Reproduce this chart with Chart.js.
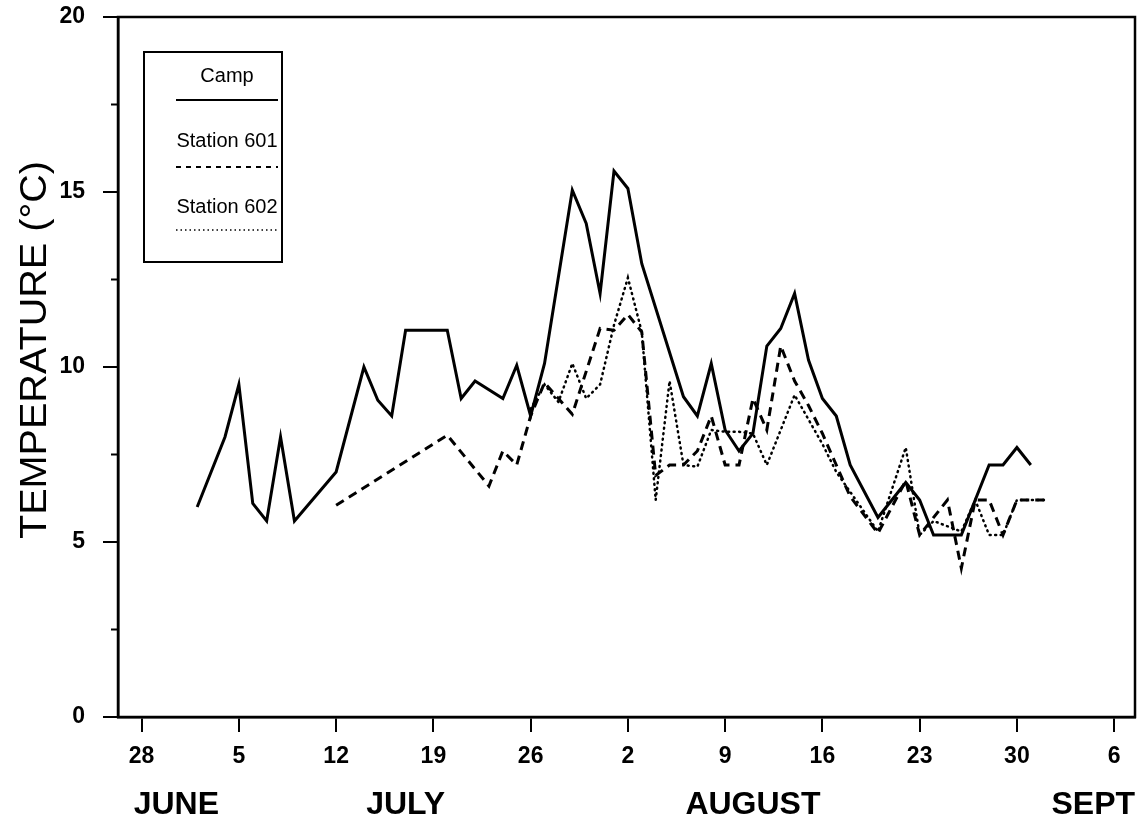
<!DOCTYPE html>
<html>
<head>
<meta charset="utf-8">
<title>Temperature</title>
<script src="https://cdn.jsdelivr.net/npm/chart.js@4.4.1/dist/chart.umd.min.js"></script>
<style>
  html, body { margin: 0; padding: 0; background: #fff; }
  canvas { display: block; }
</style>
</head>
<body>
<canvas id="tempChart" width="1143" height="818"></canvas>
<script>
// days counted from 28 June (day 0)
const tickDays = [0, 7, 14, 21, 28, 35, 42, 49, 56, 63, 70];
const tickLabels = ["28", "5", "12", "19", "26", "2", "9", "16", "23", "30", "6"];
const monthDays = [2.5, 19, 44, 68.5];
const monthLabels = ["JUNE", "JULY", "AUGUST", "SEPT"];

const campDays = [4, 6, 7, 8, 9, 10, 11, 14, 16, 17, 18, 19, 22, 23, 24, 26, 27, 28, 29, 31, 32, 33, 34, 35, 36, 39, 40, 41, 42, 43, 44, 45, 46, 47, 48, 49, 50, 51, 53, 55, 56, 57, 59, 61, 62, 63, 64];
const campTemps = [6.0, 8.0, 9.5, 6.1, 5.6, 8.0, 5.6, 7.0, 10.0, 9.05, 8.6, 11.05, 11.05, 9.1, 9.6, 9.1, 10.05, 8.6, 10.1, 15.05, 14.1, 12.1, 15.6, 15.1, 12.95, 9.15, 8.6, 10.1, 8.2, 7.6, 8.1, 10.6, 11.1, 12.1, 10.2, 9.1, 8.6, 7.2, 5.7, 6.7, 6.2, 5.2, 5.2, 7.2, 7.2, 7.7, 7.2];

const st601Days = [14, 22, 25, 26, 27, 28, 29, 30, 31, 33, 34, 35, 36, 37, 38, 39, 40, 41, 42, 43, 44, 45, 46, 47, 48, 49, 50, 51, 53, 55, 56, 58, 59, 60, 61, 62, 63, 65];
const st601Temps = [6.05, 8.05, 6.6, 7.6, 7.2, 8.6, 9.55, 9.1, 8.65, 11.1, 11.05, 11.5, 11.0, 6.9, 7.2, 7.2, 7.6, 8.6, 7.2, 7.2, 9.1, 8.2, 10.6, 9.6, 8.9, 8.1, 7.2, 6.3, 5.25, 6.75, 5.2, 6.2, 4.25, 6.2, 6.2, 5.2, 6.2, 6.2];

const st602Days = [28, 29, 30, 31, 32, 33, 34, 35, 36, 37, 38, 39, 40, 41, 42, 43, 44, 45, 47, 48, 49, 50, 53, 55, 56, 57, 59, 60, 61, 62, 63, 65];
const st602Temps = [8.8, 9.5, 9.0, 10.1, 9.1, 9.5, 11.2, 12.55, 11.0, 6.2, 9.6, 7.2, 7.15, 8.2, 8.15, 8.15, 8.1, 7.2, 9.2, 8.5, 7.8, 7.0, 5.3, 7.7, 5.2, 5.6, 5.3, 6.2, 5.2, 5.2, 6.2, 6.2];

const FONT = "'Liberation Sans', Arial, Helvetica, sans-serif";

const toPoints = (days, temps) => days.map((d, i) => ({ x: d, y: temps[i] }));

// box round the plot, minor y ticks, y title and the boxed legend
const extras = {
  id: "extras",
  afterDraw(chart) {
    const { ctx, chartArea: a, scales } = chart;
    ctx.save();
    ctx.strokeStyle = "#000";
    ctx.lineWidth = 2.5;
    ctx.strokeRect(a.left, a.top, a.right - a.left, a.bottom - a.top);

    ctx.lineWidth = 2;
    [2.5, 7.5, 12.5, 17.5].forEach((v) => {
      const y = scales.y.getPixelForValue(v);
      ctx.beginPath();
      ctx.moveTo(a.left - 7, y);
      ctx.lineTo(a.left, y);
      ctx.stroke();
    });

    // y title, a little stretched along its length like the original
    ctx.save();
    ctx.translate(36, 350);
    ctx.rotate(-Math.PI / 2);
    ctx.scale(1.1, 1);
    ctx.fillStyle = "#000";
    ctx.font = "36px " + FONT;
    ctx.textAlign = "center";
    ctx.textBaseline = "middle";
    ctx.fillText("TEMPERATURE (°C)", 0, 0);
    ctx.restore();

    // legend
    ctx.lineWidth = 2;
    ctx.strokeRect(144, 52, 138, 210);
    ctx.fillStyle = "#000";
    ctx.font = "20px " + FONT;
    ctx.textAlign = "center";
    ctx.textBaseline = "middle";
    const rows = [
      { label: "Camp", ty: 76, ly: 100, dash: [], w: 2 },
      { label: "Station 601", ty: 141, ly: 167, dash: [5, 5], w: 2 },
      { label: "Station 602", ty: 207, ly: 230, dash: [1.5, 3], w: 1.5 }
    ];
    rows.forEach((r) => {
      ctx.fillText(r.label, 227, r.ty);
      ctx.beginPath();
      ctx.setLineDash(r.dash);
      ctx.lineWidth = r.w;
      ctx.moveTo(176, r.ly);
      ctx.lineTo(278, r.ly);
      ctx.stroke();
    });
    ctx.restore();
  }
};

const ctx = document.getElementById("tempChart");

new Chart(ctx, {
  type: "line",
  data: {
    datasets: [
      {
        label: "Camp",
        data: toPoints(campDays, campTemps),
        borderColor: "#000",
        borderWidth: 3
      },
      {
        label: "Station 601",
        data: toPoints(st601Days, st601Temps),
        borderColor: "#000",
        borderWidth: 3,
        borderDash: [9, 6]
      },
      {
        label: "Station 602",
        data: toPoints(st602Days, st602Temps),
        borderColor: "#000",
        borderWidth: 2.5,
        borderDash: [1, 4.5],
        borderCapStyle: "round"
      }
    ]
  },
  options: {
    responsive: false,
    animation: false,
    layout: { padding: { top: 17, right: 8, left: 0, bottom: 0 } },
    plugins: {
      legend: { display: false },
      tooltip: { enabled: false }
    },
    elements: {
      point: { radius: 0 },
      line: { tension: 0 }
    },
    scales: {
      x: {
        type: "linear",
        min: -1.7,
        max: 71.5,
        afterBuildTicks: (s) => {
          s.ticks = tickDays.map((v) => ({ value: v }));
        },
        afterFit: (s) => {
          s.height = 57;
          s.paddingLeft = 0;
          s.paddingRight = 0;
        },
        ticks: {
          autoSkip: false,
          maxRotation: 0,
          padding: 11,
          color: "#000",
          font: { family: FONT, size: 23, weight: "bold" },
          callback: (v) => tickLabels[tickDays.indexOf(v)]
        },
        grid: { drawOnChartArea: false, tickLength: 15, color: "#000", lineWidth: 2 },
        border: { display: true, color: "#000", width: 2.5 }
      },
      month: {
        type: "linear",
        position: "bottom",
        min: -1.7,
        max: 71.5,
        afterBuildTicks: (s) => {
          s.ticks = monthDays.map((v) => ({ value: v }));
        },
        afterFit: (s) => {
          s.height = 44;
          s.paddingLeft = 0;
          s.paddingRight = 0;
        },
        ticks: {
          autoSkip: false,
          maxRotation: 0,
          padding: 4,
          color: "#000",
          font: { family: FONT, size: 32, weight: "bold" },
          callback: (v) => monthLabels[monthDays.indexOf(v)]
        },
        grid: { display: false },
        border: { display: false }
      },
      y: {
        min: 0,
        max: 20,
        afterFit: (s) => {
          s.width = 118;
          s.paddingTop = 0;
          s.paddingBottom = 0;
        },
        ticks: {
          stepSize: 5,
          padding: 18,
          color: "#000",
          font: { family: FONT, size: 23, weight: "bold" }
        },
        grid: { drawOnChartArea: false, tickLength: 15, color: "#000", lineWidth: 2 },
        border: { display: true, color: "#000", width: 2.5 }
      }
    }
  },
  plugins: [extras]
});
</script>
</body>
</html>
